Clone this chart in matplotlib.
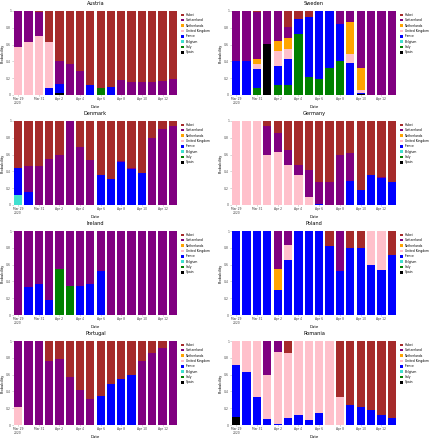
import matplotlib
matplotlib.use("Agg")
import matplotlib.pyplot as plt
import numpy as np

DATES = ["Mar 29", "Mar 30", "Mar 31", "Apr 1", "Apr 2", "Apr 3", "Apr 4", "Apr 5",
         "Apr 6", "Apr 7", "Apr 8", "Apr 9", "Apr 10", "Apr 11", "Apr 12", "Apr 13"]
TICK_LABELS = ["Mar 29\n2020", "Mar 31", "Apr 2", "Apr 4", "Apr 6", "Apr 8", "Apr 10", "Apr 12"]

# stacking order bottom -> top
CATEGORIES = ["Spain", "Italy", "Belgium", "France", "United Kingdom", "Netherlands", "Switzerland", "Hubei"]
COLORS = ["black", "green", "turquoise", "blue", "pink", "orange", "purple", "brown"]

Z = [0.0] * 16

austria = {
    "Spain":          [0, 0, 0, 0, 0.02, 0, 0, 0, 0, 0, 0, 0, 0, 0, 0, 0],
    "Italy":          [0, 0, 0, 0, 0, 0, 0, 0, 0.08, 0, 0, 0, 0, 0, 0, 0],
    "France":         [0, 0, 0, 0.08, 0.11, 0, 0, 0.12, 0, 0.09, 0, 0, 0, 0, 0, 0],
    "United Kingdom": [0.57, 0.63, 0.70, 0.55, 0, 0, 0, 0, 0, 0, 0, 0, 0, 0, 0, 0],
    "Switzerland":    [0.43, 0.37, 0.29, 0, 0.28, 0.37, 0.28, 0, 0, 0, 0.18, 0.15, 0.155, 0.155, 0.17, 0.19],
    "Hubei":          [0, 0, 0.01, 0.37, 0.59, 0.63, 0.72, 0.88, 0.92, 0.91, 0.82, 0.85, 0.845, 0.845, 0.83, 0.81],
}
sweden = {
    "Spain":          [0, 0, 0, 0.61, 0, 0, 0, 0, 0, 0, 0, 0, 0.01, 0, 0, 0],
    "Italy":          [0, 0, 0.08, 0, 0.12, 0.12, 0.73, 0.21, 0.19, 0.32, 0.40, 0, 0, 0, 0, 0],
    "France":         [0.41, 0.41, 0.23, 0, 0.23, 0.31, 0.18, 0.72, 0.81, 0.68, 0.45, 0.38, 0.01, 0, 0, 0],
    "United Kingdom": [0, 0, 0.06, 0, 0.17, 0.12, 0, 0, 0, 0, 0, 0.11, 0.04, 0, 0, 0],
    "Netherlands":    [0, 0, 0.06, 0, 0.12, 0.13, 0, 0, 0, 0, 0, 0.38, 0.26, 0, 0, 0],
    "Switzerland":    [0.59, 0.59, 0.56, 0.39, 0.36, 0.13, 0, 0, 0, 0, 0.15, 0.13, 0.68, 1, 1, 1],
    "Hubei":          [0, 0, 0.01, 0, 0, 0.19, 0.09, 0.07, 0, 0, 0, 0, 0, 0, 0, 0],
}
denmark = {
    "Belgium":        [0.12, 0, 0, 0, 0, 0, 0, 0, 0, 0, 0, 0, 0, 0, 0, 0],
    "France":         [0.32, 0.15, 0, 0, 0, 0, 0, 0, 0.36, 0.31, 0.51, 0.43, 0.38, 0, 0, 0],
    "Switzerland":    [0, 0.31, 0.47, 0.55, 0.59, 1.0, 0.69, 0.54, 0, 0, 0.01, 0.01, 0, 0.80, 0.90, 0.94],
    "Hubei":          [0.56, 0.54, 0.53, 0.45, 0.41, 0, 0.31, 0.46, 0.64, 0.69, 0.48, 0.56, 0.62, 0.20, 0.10, 0.06],
}
germany = {
    "France":         [0, 0, 0, 0, 0, 0, 0, 0, 0.01, 0, 0, 0.28, 0.18, 0.36, 0.32, 0.27],
    "United Kingdom": [1, 1, 1, 0.59, 0.63, 0.48, 0.36, 0.09, 0, 0, 0, 0, 0, 0, 0, 0],
    "Switzerland":    [0, 0, 0, 0.35, 0.23, 0.17, 0.12, 0.33, 0.26, 0.27, 0.60, 0.34, 0, 0, 0.01, 0],
    "Hubei":          [0, 0, 0, 0.06, 0.14, 0.35, 0.52, 0.58, 0.73, 0.73, 0.40, 0.38, 0.82, 0.64, 0.67, 0.73],
}
ireland = {
    "Italy":          [0, 0, 0, 0, 0.55, 0.34, 0, 0, 0, 0, 0, 0, 0, 0, 0, 0],
    "France":         [0, 0.33, 0.37, 0.18, 0, 0, 0.34, 0.37, 0.52, 0, 0, 0, 0, 0, 0, 0],
    "Switzerland":    [1, 0.67, 0.63, 0.82, 0.45, 0.66, 0.66, 0.63, 0.48, 1, 1, 1, 1, 1, 1, 1],
}
poland = {
    "France":         [1, 1, 1, 1, 0.30, 0.65, 1, 1, 1, 0.82, 0.52, 0.80, 0.80, 0.59, 0.53, 0.72],
    "United Kingdom": [0, 0, 0, 0, 0, 0.18, 0, 0, 0, 0, 0, 0, 0, 0.41, 0.47, 0],
    "Netherlands":    [0, 0, 0, 0, 0.25, 0, 0, 0, 0, 0, 0, 0, 0, 0, 0, 0],
    "Switzerland":    [0, 0, 0, 0, 0.45, 0.17, 0, 0, 0, 0, 0.48, 0, 0, 0, 0, 0],
    "Hubei":          [0, 0, 0, 0, 0, 0, 0, 0, 0, 0.18, 0, 0.20, 0.20, 0, 0, 0.28],
}
portugal = {
    "France":         [0, 0, 0, 0, 0, 0, 0, 0, 0.34, 0.49, 0.55, 0.60, 0, 0, 0, 0],
    "United Kingdom": [0.21, 0, 0, 0, 0, 0, 0, 0, 0, 0, 0, 0, 0, 0, 0, 0],
    "Switzerland":    [0.79, 1, 1, 0.76, 0.79, 0.57, 0.42, 0.31, 0, 0, 0, 0, 0.76, 0.86, 0.92, 1],
    "Hubei":          [0, 0, 0, 0.24, 0.21, 0.43, 0.58, 0.69, 0.66, 0.51, 0.45, 0.40, 0.24, 0.14, 0.08, 0],
}
romania = {
    "Spain":          [0.10, 0, 0, 0, 0, 0, 0, 0, 0, 0, 0, 0, 0, 0, 0, 0],
    "France":         [0.62, 0.63, 0.33, 0.07, 0.01, 0.08, 0.12, 0.06, 0.14, 0, 0, 0.24, 0.21, 0.18, 0.12, 0.08],
    "United Kingdom": [0.28, 0.37, 0.67, 0.52, 0.86, 0.78, 0.88, 0.94, 0.86, 1.0, 0.33, 0, 0, 0, 0, 0],
    "Switzerland":    [0, 0, 0, 0.41, 0.13, 0, 0, 0, 0, 0, 0, 0, 0, 0, 0, 0],
    "Hubei":          [0, 0, 0, 0, 0, 0.14, 0, 0, 0, 0, 0.67, 0.76, 0.79, 0.82, 0.88, 0.92],
}

PANELS = [("Austria", austria), ("Sweden", sweden), ("Denmark", denmark), ("Germany", germany),
          ("Ireland", ireland), ("Poland", poland), ("Portugal", portugal), ("Romania", romania)]

W, H = 434, 440
fig = plt.figure(figsize=(W / 100, H / 100), dpi=100)

col_lr = [(13, 178), (231, 397)]
row_tb = [(11, 95), (121, 205), (231, 315), (341, 425)]

x = np.arange(len(DATES))
for i, (name, data) in enumerate(PANELS):
    r, c = divmod(i, 2)
    l, rr = col_lr[c]
    t, b = row_tb[r]
    ax = fig.add_axes([l / W, 1 - b / H, (rr - l) / W, (b - t) / H])
    bottom = np.zeros(len(DATES))
    handles = []
    for cat, col in zip(CATEGORIES, COLORS):
        vals = np.array(data.get(cat, Z), dtype=float)
        h = ax.bar(x, vals, width=0.8, bottom=bottom, color=col, label=cat, linewidth=0)
        handles.append(h)
        bottom += vals
    ax.set_xlim(-0.5, len(DATES) - 0.5)
    ax.set_ylim(0, 1)
    ax.set_xticks(x[::2])
    ax.set_xticklabels(TICK_LABELS, fontsize=2.2, linespacing=1.0)
    ax.set_yticks([0, 0.2, 0.4, 0.6, 0.8, 1.0])
    ax.set_yticklabels(["0", "0.2", "0.4", "0.6", "0.8", "1"], fontsize=2.2)
    ax.tick_params(length=0.6, width=0.3, pad=0.8, colors="#444444")
    for s in ax.spines.values():
        s.set_visible(False)
    ax.set_title(name, fontsize=3.6, pad=4.5)
    ax.set_xlabel("Date", fontsize=2.8, labelpad=0.3)
    ax.set_ylabel("Probability", fontsize=2.6, labelpad=1.0)
    ax.legend(handles[::-1], CATEGORIES[::-1], loc="upper left", bbox_to_anchor=(1.01, 1.0),
              frameon=False, fontsize=2.2, handlelength=0.9, handleheight=0.9,
              labelspacing=0.45, handletextpad=0.6, borderaxespad=0.2)

fig.savefig("out.png", dpi=100)
